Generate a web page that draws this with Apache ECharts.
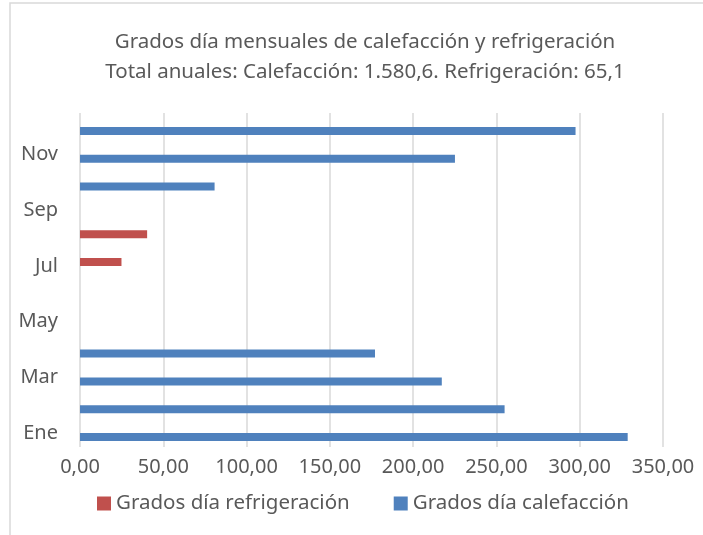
<!DOCTYPE html>
<html>
<head>
<meta charset="utf-8">
<script src="https://cdn.jsdelivr.net/npm/echarts@6/dist/echarts.min.js"></script>
<style>
html,body{margin:0;padding:0;background:#fff;}
#chart{width:703px;height:535px;}
</style>
</head>
<body>
<div id="chart"></div>
<script>
// meses (Ene abajo)
var meses = ['Ene','Feb','Mar','Abr','May','Jun','Jul','Ago','Sep','Oct','Nov','Dic'];
var refrigeracion = [0,0,0,0,0,0,24.9,40.3,0,0,0,0];
var calefaccion = [328.8,254.9,217.2,177.1,0,0,0,0,0,80.8,225.1,297.5];
var ejeX = [0,50,100,150,200,250,300,350];

function fmt(v){
	return v.toFixed(2).replace('.',',');
}

var font = '"Noto Sans", sans-serif';
var gris = '#595959';

option = {
	animation:false,
	title:{
		text:'Grados día mensuales de calefacción y refrigeración\nTotal anuales: Calefacción: 1.580,6. Refrigeración: 65,1',
		left:360,
		top:22,
		textAlign:'center',
		textStyle:{
			color:gris,
			fontFamily:font,
			fontWeight:'normal',
			fontSize:20.5,
			lineHeight:30
		}
	},
	legend:{
		data:['Grados día refrigeración','Grados día calefacción'],
		left:92,
		top:488,
		itemWidth:14,
		itemHeight:14,
		itemGap:44,
		icon:'rect',
		textStyle:{color:gris,fontFamily:font,fontSize:20.5}
	},
	graphic:[{
		type:'rect',
		shape:{x:10,y:3,width:720,height:560},
		style:{fill:'none',stroke:'#d9d9d9',lineWidth:1.5}
	}],
	grid:{
		left:80,
		right:40,
		top:113,
		bottom:88
	},
	xAxis:{
		type:'value',
		min:ejeX[0],
		max:ejeX[ejeX.length-1],
		interval:50,
		axisLine:{show:false},
		axisTick:{show:false},
		axisLabel:{
			color:gris,fontFamily:font,fontSize:20,margin:10,
			formatter:function(v){return fmt(v);}
		},
		splitLine:{show:true,lineStyle:{color:'#d9d9d9',width:1.5}}
	},
	yAxis:{
		type:'category',
		data:meses,
		axisLine:{show:false},
		axisTick:{show:false},
		axisLabel:{
			interval:1,
			color:gris,fontFamily:font,fontSize:20,margin:22
		}
	},
	series:[
		{
			name:'Grados día refrigeración',
			type:'bar',
			barWidth:8,
			barGap:'0%',
			itemStyle:{color:'#c0504d'},
			data:refrigeracion
		},
		{
			name:'Grados día calefacción',
			type:'bar',
			barWidth:8,
			barGap:'0%',
			itemStyle:{color:'#4f81bd'},
			data:calefaccion
		}
	]
};
var myChart = echarts.init(document.getElementById('chart'));
myChart.setOption(option);
</script>
</body>
</html>
